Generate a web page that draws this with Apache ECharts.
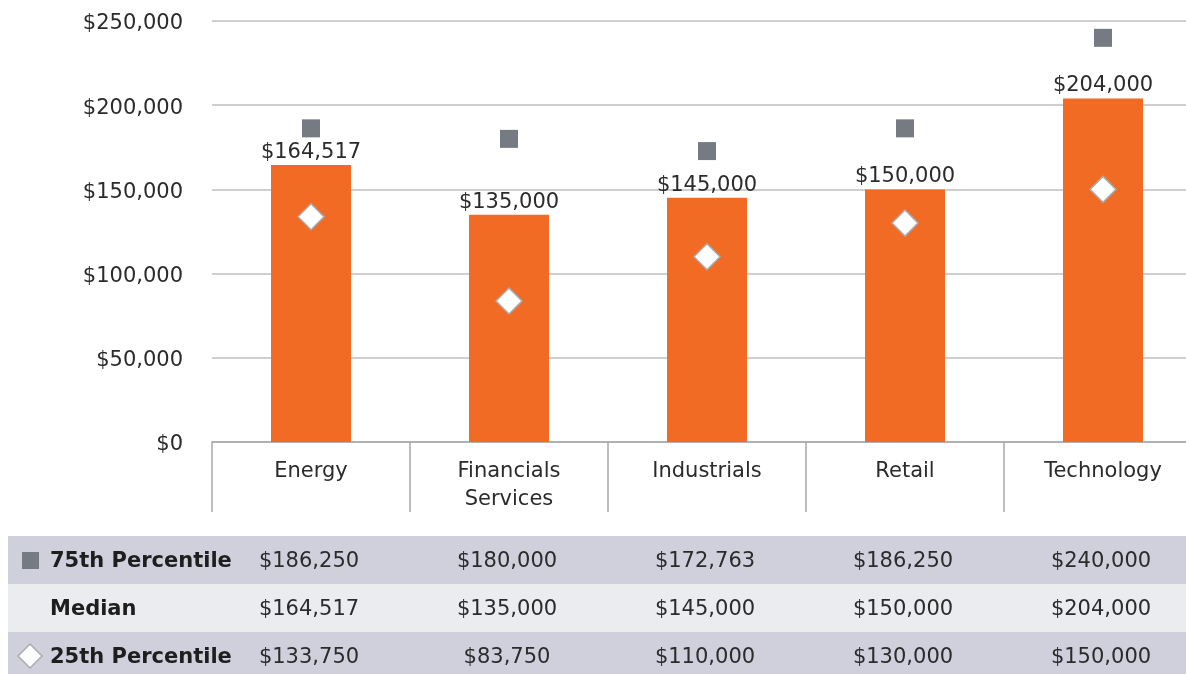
<!DOCTYPE html>
<html>
<head>
<meta charset="utf-8">
<script src="https://cdn.jsdelivr.net/npm/echarts@6/dist/echarts.min.js"></script>
<style>
html,body{margin:0;padding:0;background:#fff;}
#chart{width:1186px;height:674px;}
</style>
</head>
<body>
<div id="chart"></div>
<script>
const categories = ['Energy', 'Financials\nServices', 'Industrials', 'Retail', 'Technology'];
const p75 = [186250, 180000, 172763, 186250, 240000];
const median = [164517, 135000, 145000, 150000, 204000];
const p25 = [133750, 83750, 110000, 130000, 150000];
const rowNames = ['75th Percentile', 'Median', '25th Percentile'];
const yTicks = { min: 0, max: 250000, interval: 50000 };

const FONT = '"DejaVu Sans", "Open Sans", sans-serif';
const TXT = '#2b2b2b';
const money = v => '$' + v.toLocaleString('en-US');

const chart = echarts.init(document.getElementById('chart'));
const option = {
  animation: false,
  textStyle: { fontFamily: FONT },
  grid: { left: 212, top: 21, width: 990, height: 421, outerBoundsMode: 'none', containLabel: false },
  xAxis: {
    type: 'category',
    data: categories,
    axisLine: { lineStyle: { color: '#a8a8a8', width: 1.5 } },
    axisTick: { show: true, length: 70, alignWithLabel: false, lineStyle: { color: '#a8a8a8', width: 1.5 } },
    axisLabel: { color: TXT, fontSize: 21, lineHeight: 28, margin: 16, fontFamily: FONT, interval: 0 }
  },
  yAxis: {
    type: 'value',
    min: yTicks.min, max: yTicks.max, interval: yTicks.interval,
    axisLine: { show: false },
    axisTick: { show: false },
    splitLine: { lineStyle: { color: '#bfbfbf', width: 1.5 } },
    axisLabel: {
      color: TXT, fontSize: 21, margin: 29, fontFamily: FONT,
      formatter: v => '{a|' + money(v) + '}',
      rich: { a: { color: TXT, fontSize: 21, fontFamily: FONT, padding: [6, 0, 0, 0] } }
    }
  },
  series: [
    {
      name: 'Median', type: 'bar', data: median, barWidth: 80,
      itemStyle: { color: '#f26b24' },
      label: { show: true, position: 'top', distance: 2, color: TXT, fontSize: 21, fontFamily: FONT, formatter: p => money(p.value) }
    },
    {
      name: '75th Percentile', type: 'scatter', data: p75, symbol: 'rect', symbolSize: 18,
      itemStyle: { color: '#767b83', opacity: 1 }, z: 5
    },
    {
      name: '25th Percentile', type: 'scatter', data: p25, symbol: 'diamond', symbolSize: [26, 26],
      itemStyle: { color: '#ffffff', borderColor: '#a9abae', borderWidth: 1.5, opacity: 1 }, z: 5
    }
  ]
};
chart.setOption(option);

// Data table below the chart
const rows = [p75, median, p25];
const rowBg = ['#cfd0dc', '#ebecf0', '#cfd0dc'];
const rowTop = 536, rowH = 48;
const g = [];
rows.forEach((vals, r) => {
  const y0 = rowTop + r * rowH;
  g.push({ type: 'rect', shape: { x: 8, y: y0, width: 1178, height: rowH }, style: { fill: rowBg[r] }, silent: true });
  g.push({ type: 'text', style: { text: rowNames[r], x: 50, y: y0 + rowH / 2 + 2, verticalAlign: 'middle', align: 'left',
    fill: '#1e1e1e', font: 'bold 21px ' + FONT } });
  vals.forEach((v, i) => {
    const cx = chart.convertToPixel({ xAxisIndex: 0 }, i);
    g.push({ type: 'text', style: { text: money(v), x: cx - 2, y: y0 + rowH / 2 + 2, align: 'center', verticalAlign: 'middle',
      fill: TXT, font: '21px ' + FONT } });
  });
});
g.push({ type: 'rect', shape: { x: 22, y: rowTop + 16, width: 17, height: 17 }, style: { fill: '#767b83' } });
g.push({ type: 'polygon', shape: { points: [[30, rowTop + 2 * rowH + 12], [42, rowTop + 2 * rowH + 24], [30, rowTop + 2 * rowH + 36], [18, rowTop + 2 * rowH + 24]] },
  style: { fill: '#ffffff', stroke: '#a9abae', lineWidth: 1.5 } });
chart.setOption({ graphic: g });
</script>
</body>
</html>
